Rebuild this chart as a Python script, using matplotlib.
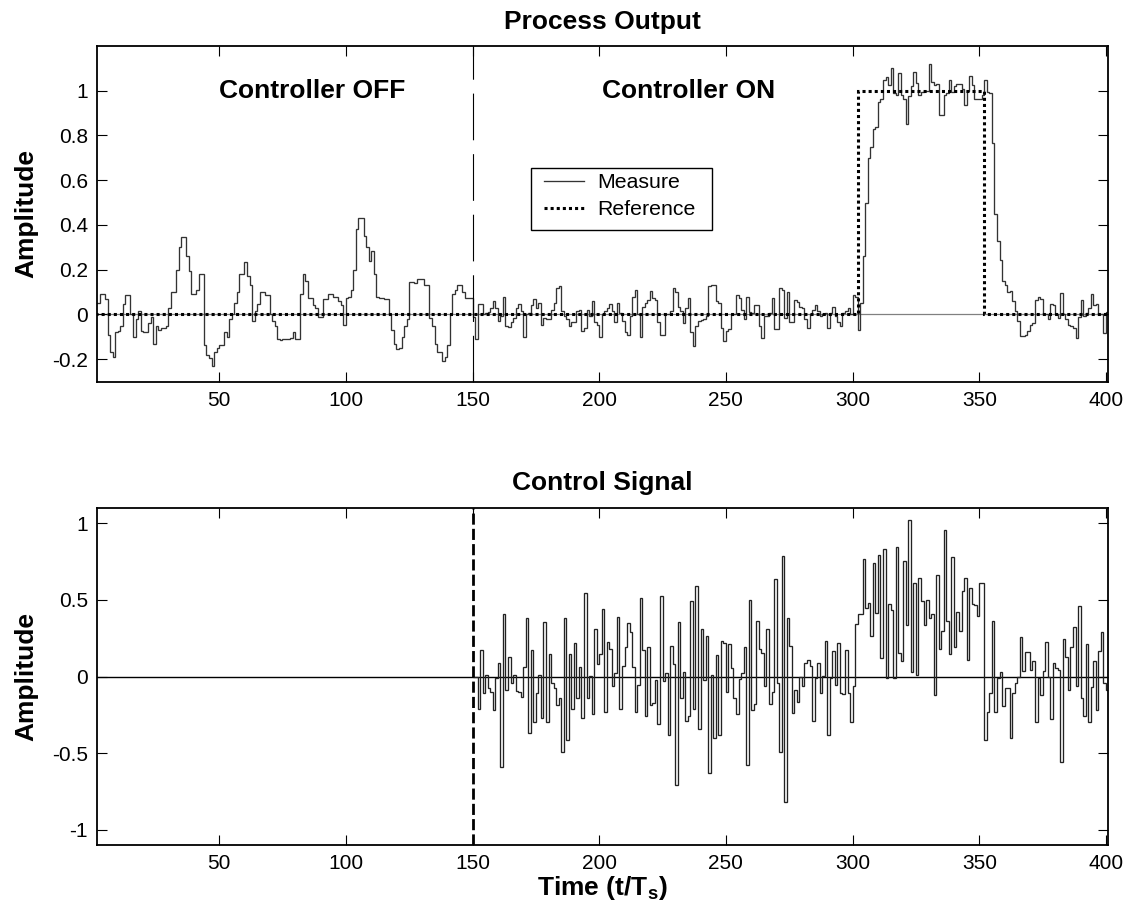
import numpy as np
import matplotlib
matplotlib.use('Agg')
import matplotlib.pyplot as plt
from matplotlib.lines import Line2D
from matplotlib.patches import Rectangle
from matplotlib.ticker import FuncFormatter

# process output, one value per sample (t = 1..400)
meas_001_100 = [0.05, 0.05, 0.09, 0.09, 0.07, -0.09, -0.17, -0.19, -0.08, -0.075,
                -0.05, 0.045, 0.085, 0.085, 0.0, -0.1, -0.02, 0.015, -0.075, -0.08,
                -0.08, -0.04, -0.01, -0.13, -0.05, -0.07, -0.06, -0.06, -0.05, 0.03,
                0.1, 0.1, 0.2, 0.3, 0.345, 0.345, 0.26, 0.195, 0.09, 0.09,
                0.11, 0.18, 0.18, -0.135, -0.18, -0.195, -0.23, -0.17, -0.15, -0.135,
                -0.135, -0.08, -0.1, -0.02, 0.0, 0.05, 0.1, 0.18, 0.18, 0.235,
                0.17, 0.13, -0.03, 0.015, 0.045, 0.1, 0.1, 0.085, 0.085, 0.0,
                -0.03, -0.05, -0.11, -0.115, -0.11, -0.11, -0.11, -0.105, -0.08, -0.11,
                -0.11, 0.09, 0.18, 0.15, 0.075, 0.075, 0.04, 0.03, -0.01, -0.01,
                0.07, 0.07, 0.09, 0.09, 0.08, 0.08, 0.06, 0.04, -0.045, 0.075]
meas_101_200 = [0.08, 0.11, 0.2, 0.38, 0.43, 0.43, 0.35, 0.3, 0.24, 0.285,
                0.18, 0.08, 0.075, 0.075, 0.067, 0.067, 0.0, -0.07, -0.13, -0.155,
                -0.15, -0.1, -0.05, -0.02, 0.145, 0.145, 0.14, 0.16, 0.16, 0.16,
                0.13, 0.13, -0.015, -0.05, -0.13, -0.17, -0.17, -0.21, -0.19, -0.135,
                0.0, 0.09, 0.11, 0.13, 0.13, 0.1, 0.075, 0.075, 0.075, -0.01,
                -0.11, 0.045, 0.045, 0.0, 0.008, 0.01, 0.03, 0.06, 0.03, -0.03,
                -0.008, 0.08, -0.05, -0.055, -0.035, -0.015, 0.03, 0.045, 0.015, -0.1,
                0.0, 0.008, 0.04, 0.07, 0.03, 0.05, -0.045, -0.015, -0.02, -0.02,
                0.02, 0.05, 0.12, 0.125, 0.015, -0.008, -0.02, -0.05, -0.035, -0.035,
                0.015, 0.02, -0.075, -0.06, 0.02, -0.008, 0.06, -0.035, -0.045, -0.1]
meas_201_300 = [0.0, 0.015, 0.03, 0.045, 0.015, -0.035, 0.05, 0.008, -0.03, -0.08,
                -0.09, -0.008, 0.08, 0.11, 0.0, -0.1, 0.035, 0.05, 0.065, 0.105,
                0.075, 0.065, -0.035, -0.09, -0.09, 0.0, 0.0, 0.015, 0.12, 0.1,
                0.035, 0.015, -0.04, 0.03, 0.075, -0.08, -0.14, -0.05, -0.03, -0.025,
                -0.02, -0.008, 0.125, 0.13, 0.13, 0.06, 0.05, -0.06, -0.12, -0.075,
                -0.065, 0.0, 0.0, 0.085, 0.075, 0.02, -0.02, 0.08, 0.01, 0.008,
                0.04, 0.04, -0.05, -0.105, -0.008, -0.008, 0.008, 0.075, -0.065, -0.065,
                0.12, 0.11, -0.015, 0.1, -0.035, -0.035, 0.065, 0.055, 0.035, 0.03,
                -0.02, -0.06, 0.0, 0.02, 0.04, 0.015, -0.005, 0.0, 0.008, -0.06,
                0.008, 0.035, -0.008, -0.035, -0.05, 0.008, 0.015, 0.03, 0.0, 0.085]
meas_301_400 = [0.08, -0.07, 0.05, 0.26, 0.5, 0.7, 0.75, 0.83, 0.84, 0.95,
                0.965, 1.05, 1.06, 1.025, 1.1, 0.99, 0.98, 1.08, 0.98, 0.965,
                0.85, 0.975, 1.02, 1.085, 1.035, 0.98, 0.995, 1.0, 1.0, 1.12,
                1.04, 1.025, 1.03, 0.89, 0.89, 0.98, 0.99, 1.05, 0.995, 1.02,
                1.03, 1.03, 1.01, 0.935, 1.0, 1.065, 1.025, 0.965, 0.965, 0.965,
                0.98, 1.05, 0.995, 0.99, 0.765, 0.45, 0.33, 0.245, 0.15, 0.13,
                0.1, 0.105, 0.06, 0.015, -0.03, -0.095, -0.095, -0.09, -0.075, -0.045,
                -0.04, 0.065, 0.08, 0.07, 0.0, 0.0, -0.02, 0.045, 0.04, 0.0,
                -0.015, 0.095, 0.0, -0.02, -0.045, -0.05, -0.06, -0.105, -0.01, 0.065,
                -0.005, 0.008, 0.03, 0.09, 0.04, 0.045, 0.0, 0.0, -0.085, 0.01]

# reference: step edges and levels
ref_edges = [1, 302, 352, 401]
ref_levels = [0.0, 1.0, 0.0]

# control signal, starts when the controller is switched on (t = 150..400)
ctrl_150_275 = [0.0, 0.0, -0.21, 0.17, -0.11, 0.01, -0.075, -0.1, -0.22, -0.01,
                0.09, -0.59, 0.41, -0.09, 0.13, -0.045, 0.01, -0.095, -0.1, -0.135,
                0.065, 0.38, -0.37, 0.17, -0.3, -0.11, 0.01, -0.27, 0.355, -0.3,
                0.145, -0.045, -0.075, -0.185, -0.14, -0.49, 0.385, -0.415, 0.15, -0.21,
                0.22, -0.14, 0.065, -0.27, 0.545, -0.14, 0.005, -0.245, 0.31, 0.08,
                0.145, 0.44, -0.235, 0.225, 0.18, -0.065, 0.02, 0.39, -0.21, 0.07,
                0.195, 0.35, 0.29, 0.065, -0.235, -0.055, 0.51, 0.175, -0.26, 0.19,
                -0.185, -0.175, -0.02, -0.31, 0.525, -0.03, 0.02, -0.385, 0.2, 0.08,
                -0.71, 0.355, -0.14, 0.03, -0.29, -0.255, 0.49, -0.21, 0.59, -0.34,
                0.31, -0.02, 0.265, -0.63, 0.01, -0.4, 0.14, -0.385, 0.23, 0.22,
                -0.1, 0.21, 0.055, -0.14, -0.245, -0.015, 0.02, 0.19, -0.58, 0.5,
                -0.22, -0.18, 0.365, 0.18, 0.155, -0.065, 0.31, -0.18, -0.1, 0.635,
                -0.045, -0.49, 0.785, -0.82, 0.385, 0.2]
ctrl_276_400 = [-0.24, -0.09, -0.165, 0.0, -0.065, 0.09, 0.11, 0.07, -0.29, -0.01,
                0.09, -0.11, 0.005, 0.235, -0.385, -0.01, 0.165, -0.055, 0.22, -0.11,
                -0.115, 0.175, -0.11, -0.3, -0.065, 0.345, 0.405, 0.405, 0.765, 0.45,
                0.48, 0.265, 0.74, 0.415, 0.795, 0.12, 0.835, -0.01, 0.475, 0.435,
                -0.01, 0.845, 0.155, 0.1, 0.755, 0.335, 1.02, 0.03, 0.61, 0.01,
                0.645, 0.49, 0.335, 0.5, 0.385, 0.41, -0.12, 0.665, 0.18, 0.295,
                0.955, 0.36, 0.145, 0.78, 0.19, 0.42, 0.295, 0.555, 0.645, 0.11,
                0.58, 0.475, 0.47, 0.395, 0.61, 0.61, -0.415, -0.23, -0.11, 0.365,
                -0.23, -0.01, 0.03, -0.19, -0.075, -0.075, -0.4, -0.11, -0.045, 0.0,
                0.255, 0.035, 0.16, 0.16, 0.045, 0.1, -0.3, -0.01, -0.12, 0.035,
                0.225, -0.005, -0.28, 0.09, 0.055, 0.04, -0.555, 0.245, 0.13, -0.085,
                0.19, 0.32, -0.065, 0.46, -0.14, -0.255, 0.21, -0.3, -0.07, 0.1,
                -0.22, 0.165, 0.29, -0.045, -0.085]

x_ticks = [50, 100, 150, 200, 250, 300, 350, 400]
y_ticks_top = [-0.2, 0, 0.2, 0.4, 0.6, 0.8, 1]
y_ticks_bot = [-1, -0.5, 0, 0.5, 1]
t_switch = 150

plt.rcParams['font.family'] = ['Liberation Sans', 'DejaVu Sans']
plt.rcParams['mathtext.fontset'] = 'custom'
plt.rcParams['mathtext.rm'] = 'Liberation Sans:bold'
plt.rcParams['mathtext.it'] = 'Liberation Sans:bold'

W, H = 1126, 916
fig = plt.figure(figsize=(W / 100, H / 100), dpi=100)
ax1 = fig.add_axes([97 / W, 1 - 382 / H, 1011 / W, 336 / H])
ax2 = fig.add_axes([97 / W, 1 - 845 / H, 1011 / W, 337 / H])

fmt = FuncFormatter(lambda v, p: f'{v:g}')
for ax in (ax1, ax2):
    ax.set_xlim(1.8, 400.8)
    ax.set_xticks(x_ticks)
    ax.xaxis.set_major_formatter(fmt)
    ax.yaxis.set_major_formatter(fmt)
    ax.tick_params(direction='in', top=True, right=True, length=7, width=0.8,
                   labelsize=15)
    ax.tick_params(axis='x', pad=6.5)
    ax.tick_params(axis='y', pad=6.5)
    for s in ax.spines.values():
        s.set_linewidth(1.3)

# ---- Process output
measure = np.array(meas_001_100 + meas_101_200 + meas_201_300 + meas_301_400)
t_edges = np.arange(1, len(measure) + 2)

ax1.axhline(0, color='#808080', lw=0.9, zorder=1)
ax1.stairs(measure, t_edges, baseline=None, color='#333333', lw=0.95, zorder=2)
ax1.stairs(ref_levels, ref_edges, baseline=None, color='black', lw=2.2,
           linestyle=(0, (1, 1)), zorder=3)
ax1.axvline(t_switch, color='black', lw=0.8, linestyle=(0, (42, 12.5)), zorder=2)

ax1.set_ylim(-0.302, 1.2)
ax1.set_yticks(y_ticks_top)
ax1.set_title('Process Output', fontsize=19, fontweight='bold', pad=12.5)
ax1.set_ylabel('Amplitude', fontsize=19, fontweight='bold', labelpad=10)
ax1.text(50, 1.0, 'Controller OFF', fontsize=19, fontweight='bold', va='center')
ax1.text(201, 1.0, 'Controller ON', fontsize=19, fontweight='bold', va='center')

# legend: plain black box drawn by hand, entries placed inside it
ax1.add_patch(Rectangle((0.4293, 0.4524), 0.179, 0.1845, transform=ax1.transAxes,
                        facecolor='white', edgecolor='black', lw=1.0, zorder=4))
handles = [Line2D([], [], color='#333333', lw=0.95),
           Line2D([], [], color='black', lw=2.2, linestyle=(0, (1, 1)))]
leg = ax1.legend(handles, ['Measure', 'Reference'], loc='upper left',
                 bbox_to_anchor=(0.442, 0.622), borderaxespad=0, borderpad=0,
                 fontsize=15.3, frameon=False, handlelength=1.88,
                 handletextpad=0.61, labelspacing=0.38)
leg.set_zorder(5)

# ---- Control signal
control = np.array(ctrl_150_275 + ctrl_276_400)
c_edges = np.arange(t_switch, t_switch + len(control) + 1)

ax2.axhline(0, color='black', lw=1.0, zorder=1)
ax2.stairs(control, c_edges, baseline=None, color='#222222', lw=0.95, zorder=2)
ax2.axvline(t_switch, color='black', lw=2.0, linestyle=(0, (4, 1.5)), zorder=3)

ax2.set_ylim(-1.1, 1.1)
ax2.set_yticks(y_ticks_bot)
ax2.set_title('Control Signal', fontsize=19, fontweight='bold', pad=13)
ax2.set_ylabel('Amplitude', fontsize=19, fontweight='bold', labelpad=10)
ax2.set_xlabel(r'Time (t/T$_{\mathrm{s}}$)', fontsize=19, fontweight='bold',
               labelpad=1)

fig.savefig('out.png', dpi=100)
